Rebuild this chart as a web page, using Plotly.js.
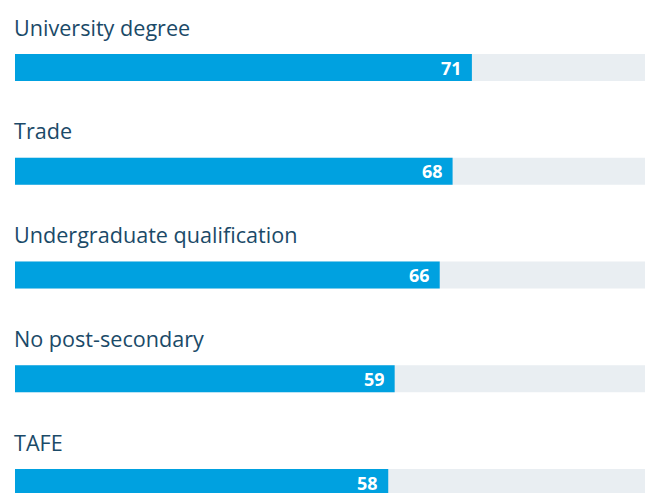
<!DOCTYPE html>
<html>
<head>
<meta charset="utf-8">
<script src="https://cdn.plot.ly/plotly-3.0.1.min.js"></script>
<style>
  body { margin: 0; background: #fff; }
  #chart { width: 645px; height: 493px; }
</style>
</head>
<body>
<div id="chart"></div>
<script>
var categories = ["University degree", "Trade", "Undergraduate qualification", "No post-secondary", "TAFE"];
var values = [71, 68, 66, 59, 58];
var trackMax = [100, 100, 100, 100, 100];

var positions = categories.map(function (c, i) { return i; });

var track = {
  type: "bar",
  orientation: "h",
  x: trackMax,
  y: positions,
  width: 0.26,
  marker: { color: "#e9eef2" },
  hoverinfo: "skip",
  showlegend: false
};

var bars = {
  type: "bar",
  orientation: "h",
  x: values,
  y: positions,
  width: 0.26,
  marker: { color: "#00a1e0" },
  hoverinfo: "skip",
  showlegend: false
};

var annotations = [];
categories.forEach(function (c, i) {
  annotations.push({
    text: c,
    x: 0, xref: "x", xanchor: "left", xshift: -3,
    y: i - 0.39, yref: "y", yanchor: "middle",
    showarrow: false,
    font: { family: "Open Sans", size: 21.6, color: "#1b4a68" }
  });
  annotations.push({
    text: "<b>" + values[i] + "</b>",
    x: values[i], xref: "x", xanchor: "right", xshift: -9,
    y: i, yref: "y", yanchor: "middle",
    height: 20, borderpad: 0,
    showarrow: false,
    font: { family: "Open Sans", size: 18, color: "#ffffff" }
  });
});

var layout = {
  width: 645,
  height: 493,
  margin: { l: 15, r: 0, t: 0, b: 0 },
  paper_bgcolor: "#ffffff",
  plot_bgcolor: "#ffffff",
  barmode: "overlay",
  xaxis: { range: [0, 97.9], visible: false, fixedrange: true },
  yaxis: { range: [4.101, -0.651], visible: false, fixedrange: true },
  annotations: annotations
};

Plotly.newPlot("chart", [track, bars], layout, { displayModeBar: false, staticPlot: true });
</script>
</body>
</html>
